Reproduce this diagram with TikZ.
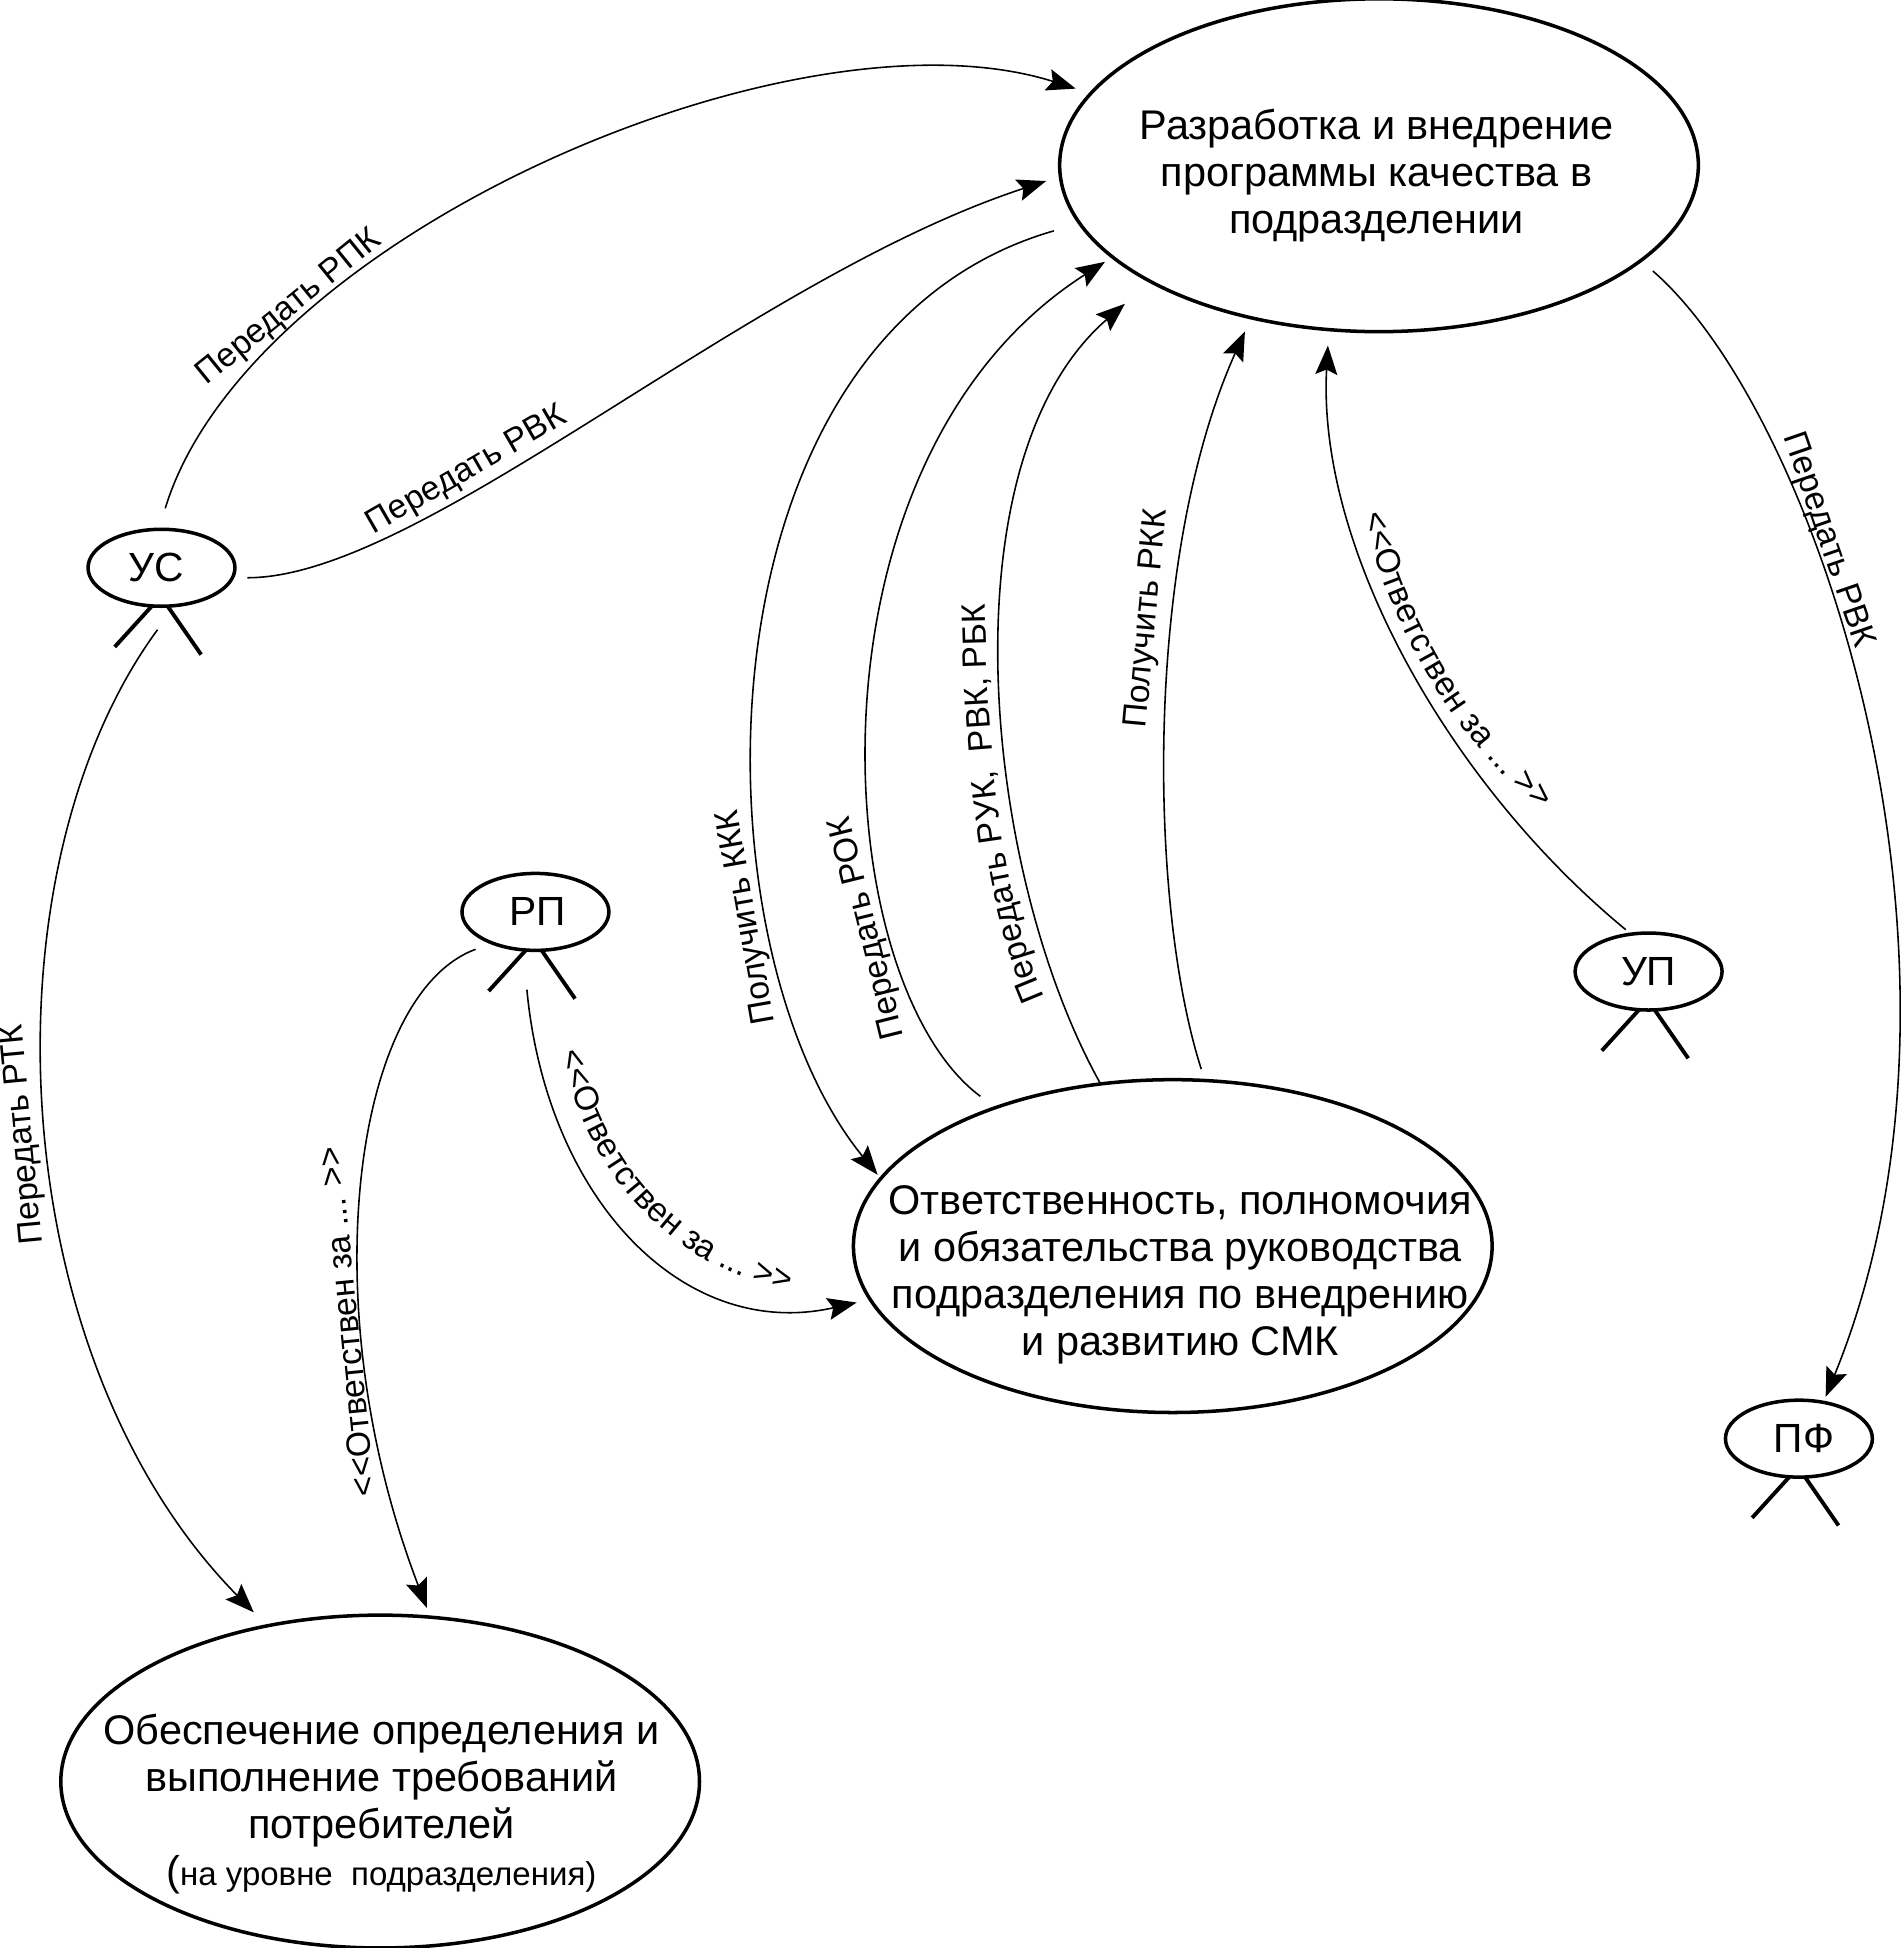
\documentclass[tikz,border=0pt]{standalone}
\usepackage{fontspec}
\setmainfont{Liberation Sans}
\usetikzlibrary{arrows.meta}
\usetikzlibrary{shapes.geometric}
\usetikzlibrary{decorations.text}
\newcommand{\flowfont}{\fontsize{9.6}{11}\selectfont}
\tikzset{
    usecase/.style={draw,ellipse,line width=1pt,inner sep=0pt,outer sep=0pt,minimum width=6.39cm,minimum height=3.33cm},
    actor/.style={draw,ellipse,line width=1pt,inner sep=0pt,outer sep=0pt,minimum width=1.47cm,minimum height=0.77cm,font=\fontsize{11.6}{14}\selectfont},
    leg/.style={line width=1.1pt},
    bigtext/.style={align=center,inner sep=0pt,font=\fontsize{11.8}{13.4}\selectfont},
    flowtext/.style={inner sep=0pt,font=\flowfont},
    flow/.style={line width=0.45pt,-{Stealth[length=2.9mm,width=2.2mm,inset=0.5mm]}},
    bentlabel/.style={decorate,decoration={text along path,text align=center,text={|\flowfont|#1}}}
}
\begin{document}
\begin{tikzpicture}[x=0.1243mm,y=-0.1243mm]
    \useasboundingbox (0,0) rectangle (1530,1568);
    % use cases
    \node[usecase] (main) at (1110,133) {};
    \node[usecase] (resp) at (944,1003) {};
    \node[usecase] (req) at (306,1434) {};
    \node[bigtext] (maintext) at (1108,141) {Разработка и внедрение\\программы качества в\\подразделении};
    \node[bigtext] (resptext) at (950,1026) {Ответственность, полномочия\\и обязательства руководства\\подразделения по внедрению\\и развитию СМК};
    \node[bigtext] (reqtext) at (307,1452) {Обеспечение определения и\\выполнение требований\\потребителей\\{\fontsize{11.8}{13.4}\selectfont(}{\fontsize{9.4}{11}\selectfont на уровне\ \ подразделения)}};
    % actors
    \node[actor] (us) at (130,457) {УС\kern1mm};
    \node[actor] (rp) at (431,734) {\kern0.4mm РП};
    \node[actor] (up) at (1327,782) {УП};
    \node[actor] (pf) at (1448,1158) {\kern1mm ПФ};
    \foreach \who in {us,rp,up,pf}{
        \draw[leg] (\who.256) -- ++(-30,33);
        \draw[leg] (\who.279) -- ++(27,39);
    }
    % connectors
    \draw[flow,shorten <=2.2mm,shorten >=1.6mm] (us.94) .. controls (200,190) and (640,0) .. (main.166);
    \draw[flow,shorten <=1.5mm,shorten >=1.5mm] (us.-8) .. controls (340,465) and (600,225) .. (main.182);
    \draw[flow,shorten <=2.7mm,shorten >=0.5mm] (main.191) .. controls (555,270) and (555,760) .. (resp.167.6);
    \draw[flow,shorten <=1.9mm,shorten >=0.9mm] (resp.142.8) .. controls (665,790) and (640,370) .. (main.199.3);
    \draw[flow,shorten <=0.1mm,shorten >=3.4mm] (resp.114.6) .. controls (790,700) and (760,370) .. (main.207.6);
    \draw[flow,shorten <=1.2mm,shorten >=1.5mm] (resp.79.7) .. controls (925,730) and (920,450) .. (main.230.2);
    \draw[flow,shorten <=0.7mm,shorten >=1.6mm] (up.115.9) .. controls (1165,630) and (1060,440) .. (main.253.5);
    \draw[flow,shorten <=1.6mm,shorten >=0.6mm] (main.-20.9) .. controls (1465,335) and (1610,780) .. (pf.56.3);
    \draw[flow,shorten <=3mm,shorten >=1.9mm] (us.290) .. controls (-15,700) and (0,1090) .. (req.126.4);
    \draw[flow,shorten <=1.8mm,shorten >=1mm] (rp.216.5) .. controls (285,800) and (250,1050) .. (req.73.5);
    \draw[flow,shorten <=4mm,shorten >=1.4mm] (rp.252) .. controls (440,965) and (550,1080) .. (resp.190.5);
    % connector labels
    \node[flowtext,rotate=39] (lblrpk) at (233,248) {Передать РПК};
    \node[flowtext,rotate=30] (lblrvk) at (376,379) {Передать РВК};
    \node[flowtext,rotate=100] (lblkkk) at (602,738) {Получить ККК};
    \node[flowtext,rotate=104] (lblrok) at (699,747) {Передать РОК};
    \node[flowtext,rotate=84.7] (lblrkk) at (924,498) {Получить РКК};
    \node[flowtext,rotate=-71] (lblpf) at (1471,435) {Передать РВК};
    \node[flowtext,rotate=95.4] (lblrtk) at (19,913) {Передать РТК};
    \node[flowtext,rotate=95.7] (lblrpa) at (279,1064) {<{}<Ответствен за ... >{}>};
    % these follow their curves
    \path[bentlabel={Передать РУК, { }РВК, РБК}] (840,800) .. controls (805,720) and (795,600) .. (793,489);
    \path[bentlabel={<<Ответствен за ... >>}] (1099,420) .. controls (1115,490) and (1162,586) .. (1236,648);
    \path[bentlabel={<<Ответствен за ... >>}] (450,843) .. controls (475,950) and (540,1020) .. (640,1040);
\end{tikzpicture}
\end{document}
